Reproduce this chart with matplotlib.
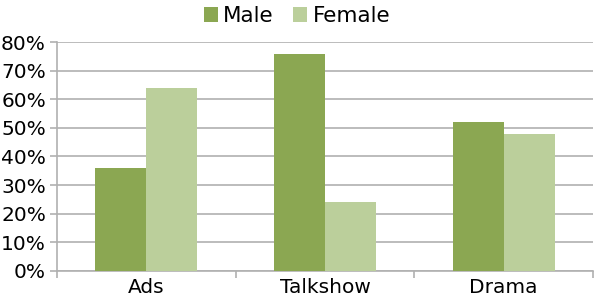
import numpy as np
import matplotlib.pyplot as plt
from matplotlib.ticker import FuncFormatter

categories = ["Ads", "Talkshow", "Drama"]
male = [36, 76, 52]
female = [64, 24, 48]
y_ticks = [0, 10, 20, 30, 40, 50, 60, 70, 80]

c_male = "#8ba752"
c_female = "#bbcf9b"
grid_c = "#b0b0b0"

fig = plt.figure(figsize=(5.94, 2.98), dpi=100)
ax = fig.add_axes([57 / 594, 1 - 270.7 / 298, 536 / 594, 228.4 / 298])

x = np.arange(len(categories))
w = 0.285
ax.bar(x - w / 2, male, w, color=c_male, label="Male", zorder=3)
ax.bar(x + w / 2, female, w, color=c_female, label="Female", zorder=3)

ax.set_xlim(-0.5, len(categories) - 0.5)
ax.set_ylim(0, 80)
ax.set_yticks(y_ticks)
ax.yaxis.set_major_formatter(FuncFormatter(lambda v, p: f"{int(v)}%"))
ax.yaxis.grid(True, color=grid_c, linewidth=1.2, zorder=0)

# category labels centred, tick marks between categories
ax.set_xticks(x)
ax.set_xticklabels(categories)
ax.set_xticks(np.arange(len(categories) + 1) - 0.5, minor=True)
ax.tick_params(axis="x", which="major", length=0, pad=5, labelsize=14.5)
ax.tick_params(axis="x", which="minor", length=5, color=grid_c, width=1.2)
ax.tick_params(axis="y", length=5, color=grid_c, width=1.2, labelsize=14.5, pad=3)

for s in ["top", "right"]:
    ax.spines[s].set_visible(False)
for s in ["left", "bottom"]:
    ax.spines[s].set_color(grid_c)
    ax.spines[s].set_linewidth(1.2)

leg = fig.legend(loc="upper center", bbox_to_anchor=(0.5, 1.045), ncol=2, frameon=False,
                 fontsize=15.5, handlelength=0.65, handleheight=0.65, handletextpad=0.25,
                 columnspacing=0.9)

fig.savefig("out.png", dpi=100)
